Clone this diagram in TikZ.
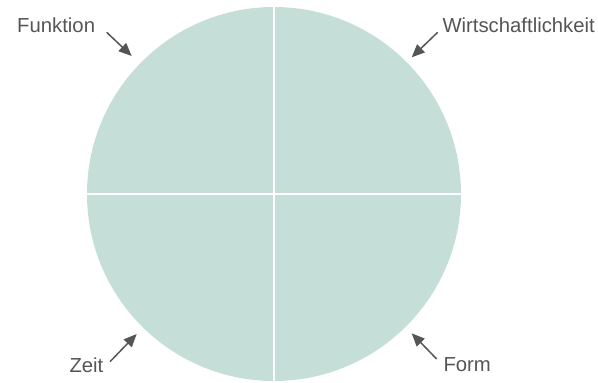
\documentclass[tikz,border=0pt]{standalone}
\usepackage{fontspec}
\setmainfont{Liberation Sans}
\usetikzlibrary{arrows.meta}
\definecolor{sage}{HTML}{C5DFD8}
\definecolor{ink}{HTML}{555555}
\begin{document}
\begin{tikzpicture}[x=1pt,y=-1pt,
  label/.style={font=\fontsize{20.3}{24}\selectfont,text=ink,inner sep=0pt},
  pointer/.style={draw=ink,line width=1.5pt,-{Triangle[length=13pt,width=11pt]}}]
\useasboundingbox (0,0) rectangle (598,383);
% disc split into four quarters
\fill[sage] (274,194) circle[radius=187];
\draw[white,line width=2pt] (274,7) -- (274,381) (87,194) -- (461,194);
% labels
\node[label,anchor=base west] (funktion) at (17,32.3) {Funktion};
\node[label,anchor=base east] (wirt) at (595,32.3) {Wirtschaftlichkeit};
\node[label,anchor=base west] (zeit) at (69.3,372.5) {Zeit};
\node[label,anchor=base west] (form) at (443.3,371.7) {Form};
% arrow ends
\coordinate (f1) at (106.7,32.3); \coordinate (f2) at (131.7,56);
\coordinate (w1) at (437.7,32.3); \coordinate (w2) at (411.7,57.3);
\coordinate (z1) at (110,361.7);  \coordinate (z2) at (136.7,334);
\coordinate (o1) at (436.7,359);  \coordinate (o2) at (411.7,333.3);
\draw[pointer] (f1) -- (f2);
\draw[pointer] (w1) -- (w2);
\draw[pointer] (z1) -- (z2);
\draw[pointer] (o1) -- (o2);
\end{tikzpicture}
\end{document}
